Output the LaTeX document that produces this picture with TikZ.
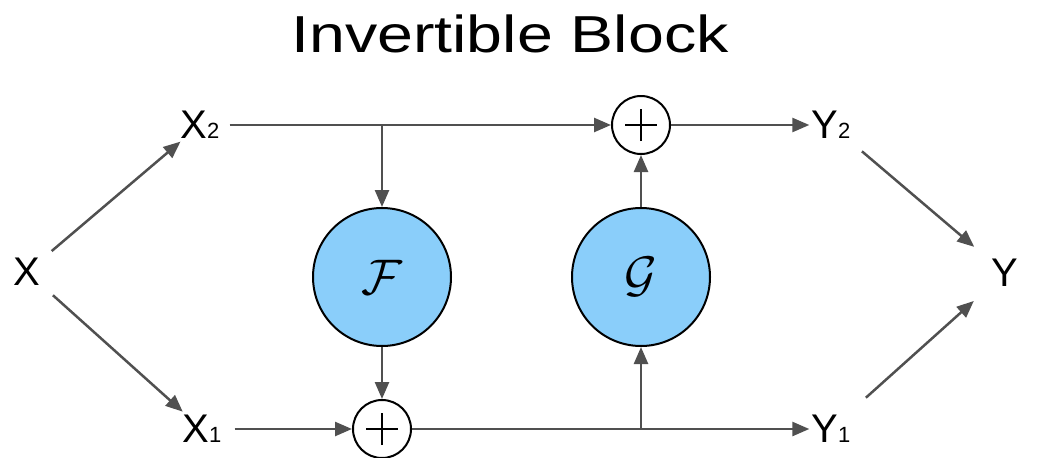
\documentclass[tikz,border=0pt]{standalone}
\usepackage{fontspec}
\setmainfont{Liberation Sans}
\usetikzlibrary{arrows.meta}
\definecolor{linegray}{RGB}{80,80,80}
\definecolor{blockblue}{RGB}{138,206,250}
\newcommand{\subidx}[1]{{\fontsize{22}{22}\selectfont #1}}

\begin{document}
\begin{tikzpicture}[x=1pt,y=-1pt,
  lbl/.style={inner sep=2pt,font=\fontsize{40}{40}\selectfont},
  wire/.style={draw=linegray,line width=2.5pt},
  arr/.style={wire,-{Triangle[length=17pt,width=14pt]}},
  adder/.style={circle,draw=black,line width=2pt,minimum size=58pt,inner sep=0pt},
  func/.style={circle,draw=black,line width=2pt,fill=blockblue,minimum size=138pt,inner sep=0pt}]
  \useasboundingbox (0,0) rectangle (1037,458);

  % title
  \node[anchor=base,font=\fontsize{52}{52}\selectfont] (title) at (510,52)
    {\scalebox{1.24}[1]{Invertible Block}};

  % inputs and outputs
  \node[lbl] (x) at (27,272) {X};
  \node[lbl] (x2) at (200,125) {X\subidx{2}};
  \node[lbl] (x1) at (202,429) {X\subidx{1}};
  \node[lbl] (y2) at (831,125) {Y\subidx{2}};
  \node[lbl] (y1) at (831,429) {Y\subidx{1}};
  \node[lbl] (y) at (1005,273) {Y};

  % functions and adders
  \node[func] (F) at (382,277) {\scalebox{5}{$\mathcal{F}$}};
  \node[func] (G) at (641,277) {\scalebox{5}{$\mathcal{G}$}};
  \node[adder] (plusTop) at (641,125) {};
  \node[adder] (plusBot) at (382,429) {};
  \foreach \a in {plusTop,plusBot}
  \draw[line width=2pt] ([xshift=-16pt]\a.center) -- ([xshift=16pt]\a.center)
    ([yshift=-16pt]\a.center) -- ([yshift=16pt]\a.center);

  \coordinate (jF) at (F |- x2);
  \coordinate (jG) at (G |- plusBot);

  % split
  \draw[arr,shorten <=12pt,shorten >=1pt] (x) -- (x2);
  \draw[arr,shorten <=14pt,shorten >=2pt] (x) -- (x1);

  % top and bottom streams
  \draw[arr,shorten <=8pt] (x2) -- (plusTop);
  \draw[arr] (plusTop) -- (y2);
  \draw[arr,shorten <=11pt] (x1) -- (plusBot);
  \draw[arr] (plusBot) -- (y1);

  % through F and G
  \draw[arr] (jF) -- (F);
  \draw[arr] (F) -- (plusBot);
  \draw[arr] (jG) -- (G);
  \draw[arr] (G) -- (plusTop);

  % merge
  \draw[arr,shorten <=16pt,shorten >=20pt] (y2) -- (y);
  \draw[arr,shorten <=23pt,shorten >=21pt] (y1) -- (y);
\end{tikzpicture}
\end{document}
